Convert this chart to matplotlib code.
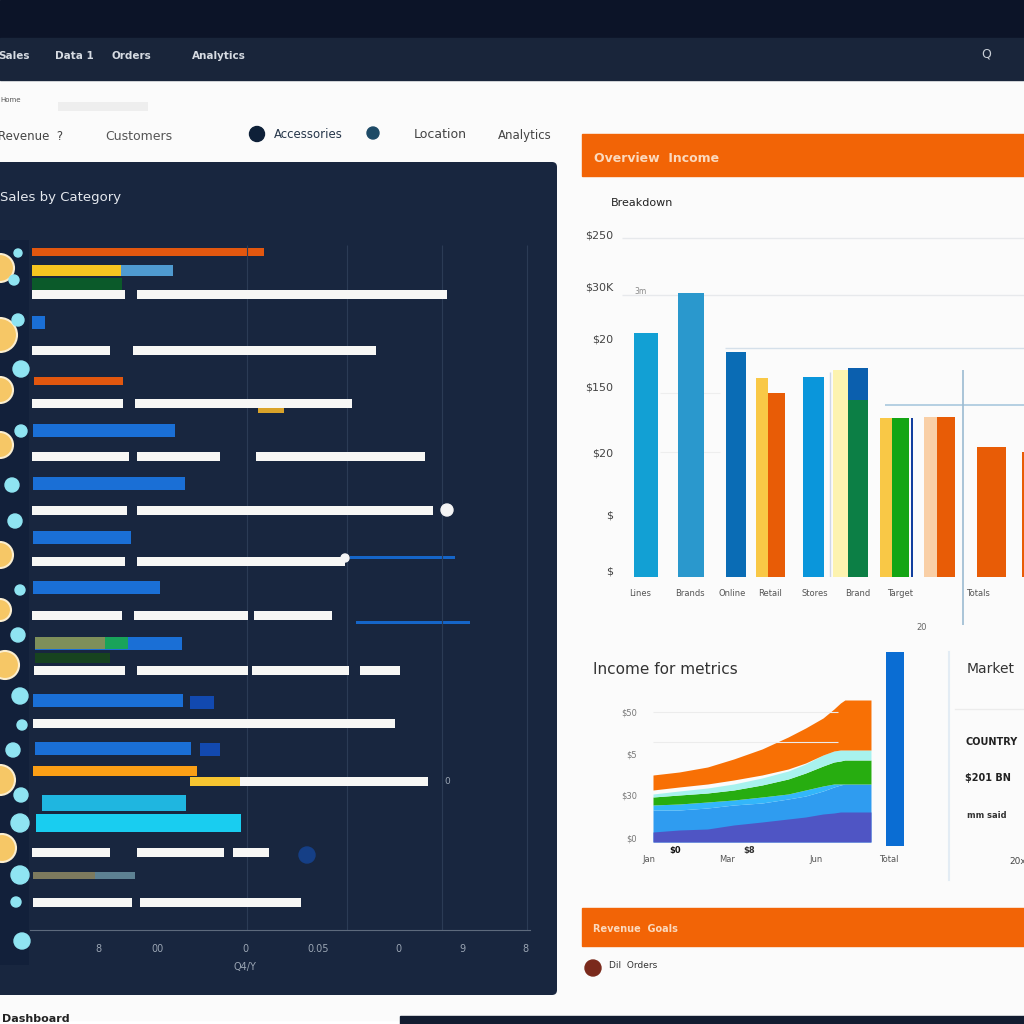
"""Dashboard mock-up: dark bar panel on the left, column and area charts on the right.

    python plot.py
"""
import matplotlib
matplotlib.use("Agg")
import matplotlib.pyplot as plt
from matplotlib.patches import Circle, FancyBboxPatch, Rectangle

# left panel, pixel-like scale on both axes
white_y = [294, 294, 350, 350, 403, 403, 456, 456, 456, 510, 510, 561, 561, 615, 615, 615,
           670, 670, 670, 670, 723, 781, 852, 852, 852, 902, 902]
white_left = [32, 137, 32, 133, 32, 135, 32, 137, 256, 32, 137, 32, 137, 32, 134, 254,
              34, 137, 252, 360, 33, 240, 32, 137, 233, 33, 140]
white_len = [93, 310, 78, 243, 91, 217, 97, 83, 169, 95, 296, 93, 208, 90, 114, 78,
             91, 111, 97, 40, 362, 188, 78, 87, 36, 99, 161]
blue_y = [322, 430, 483, 537, 587, 643, 700, 748]
blue_left = [32, 33, 33, 33, 33, 35, 33, 35]
blue_len = [13, 142, 152, 98, 127, 147, 150, 156]
blob_y = [702, 749]
blob_left = [190, 200]
blob_len = [24, 20]
orange_y = [252, 381]
orange_left = [32, 34]
orange_len = [232, 89]
cyan_y = [803, 823]
cyan_left = [42, 36]
cyan_len = [144, 205]
trace_y = [557, 622]
trace_left = [350, 356]
trace_len = [105, 114]
dots_x = [0, 0, 0, 0, 0, 5, 0, 0, 2]
dots_y = [268, 335, 390, 445, 555, 665, 610, 780, 848]
dots_r = [14, 17, 13, 13, 13, 14, 11, 15, 14]
spots_x = [18, 14, 18, 21, 21, 12, 15, 20, 18, 20, 22, 13, 21, 20, 20, 22, 16]
spots_y = [253, 280, 320, 369, 431, 485, 521, 590, 635, 696, 725, 750, 795, 823, 875, 941, 902]
spots_r = [4, 5, 6, 8, 6, 7, 7, 5, 7, 8, 5, 7, 7, 9, 9, 8, 5]
panel_ticks = [98, 158, 245, 318, 398, 462, 525]
panel_ticklabels = ["8", "00", "0", "0.05", "0", "9", "8"]
panel_grid = [247, 347, 442, 527]

# column chart
bar_x = [646, 691, 736, 813, 991]
bar_h = [244, 284, 225, 200, 130]
yellow_x = [762, 886]
yellow_h = [199, 159]
pale_x = [840, 931]
pale_h = [207, 160]
orange_x = [776, 946]
orange_h = [184, 160]
green_x = [858, 900]
green_h = [177, 159]
navy_x = [858]
navy_h = [209]
last_x = [1024]
last_h = [125]
col_yticks = [342, 290, 239, 191, 125, 62, 7]
col_ylabels = ["$250", "$30K", "$20", "$150", "$20", "$", "$"]
col_xticks = [640, 690, 732, 770, 815, 858, 900, 978]
col_xlabels = ["Lines", "Brands", "Online", "Retail", "Stores", "Brand", "Target", "Totals"]

# area chart
area_x = [0, 12, 25, 37, 50, 62, 70, 78, 83, 86, 88, 100]
purple = [10, 12, 13, 17, 20, 23, 25, 28, 29, 30, 30, 30]
sky = [32, 32, 34, 37, 39, 43, 46, 51, 55, 57, 58, 58]
green_low = [37, 38, 40, 42, 45, 48, 52, 56, 58, 58, 58, 58]
green_top = [45, 47, 49, 52, 57, 63, 69, 76, 80, 81, 82, 82]
aqua = [48, 51, 54, 58, 64, 71, 78, 87, 91, 92, 92, 92]
orange_low = [52, 55, 58, 62, 67, 73, 79, 87, 91, 92, 92, 92]
orange_top = [67, 70, 75, 83, 93, 105, 114, 124, 133, 139, 142, 142]
area_yticks = [130, 88, 47, 4]
area_ylabels = ["$50", "$5", "$30", "$0"]


def main():
    fig = plt.figure(figsize=(10.24, 10.24), dpi=100, facecolor="white")

    def px_axes(x0, y0, x1, y1):
        return fig.add_axes([x0 / 1024, 1 - y1 / 1024, (x1 - x0) / 1024, (y1 - y0) / 1024])

    # page chrome
    page = px_axes(0, 0, 1024, 1024)
    page.set(xlim=(0, 1024), ylim=(1024, 0))
    page.axis("off")
    page.add_patch(Rectangle((0, 80), 1024, 940, color="#fbfbfb"))
    page.add_patch(Rectangle((0, 0), 1024, 38, color="#0c1428"))
    page.add_patch(Rectangle((0, 38), 1024, 42, color="#19253a"))
    page.add_patch(Rectangle((400, 1016), 624, 8, color="#121c30"))
    page.add_patch(FancyBboxPatch((-10, 162), 567, 833, boxstyle="round,pad=0,rounding_size=5",
                                  fc="#18263f", ec="none"))
    page.add_patch(Rectangle((0, 240), 29, 725, color="#12203a", lw=0))
    for x, y, w, h in [(582, 134, 442, 42), (582, 908, 442, 38)]:
        page.add_patch(Rectangle((x, y), w, h, color="#f26406"))

    for x, s in [(-2, "Sales"), (55, "Data 1"), (112, "Orders"), (192, "Analytics")]:
        page.text(x, 56, s, color="#d6dbe2", fontsize=7.5, va="center", fontweight="bold")
    page.text(986, 54, "Q", color="#c8ced6", fontsize=9, ha="center", va="center")
    page.text(0, 100, "Home", color="#555555", fontsize=5, va="center")
    page.add_patch(Rectangle((58, 102), 90, 9, color="#eeeeee", lw=0))
    page.text(-2, 136, "Revenue  ?", color="#444444", fontsize=8.5, va="center")
    page.text(105, 136, "Customers", color="#555555", fontsize=9, va="center")
    page.add_patch(Circle((257, 134), 7.5, color="#0e2038"))
    page.text(274, 135, "Accessories", color="#26364a", fontsize=8.5, va="center")
    page.add_patch(Circle((373, 133), 6, color="#1d4a66"))
    page.text(414, 135, "Location", color="#444444", fontsize=9, va="center")
    page.text(498, 135, "Analytics", color="#444444", fontsize=8.5, va="center")
    page.text(0, 198, "Sales by Category", color="#e4e8ee", fontsize=9.5, va="center")
    page.text(594, 158, "Overview  Income", color="#fbd9bd", fontsize=9, va="center", fontweight="bold")
    page.text(611, 203, "Breakdown", color="#222222", fontsize=8, va="center")
    page.text(593, 669, "Income for metrics", color="#333333", fontsize=11, va="center")
    page.text(967, 669, "Market", color="#333333", fontsize=10, va="center")
    page.plot([949, 949], [652, 880], color="#e3ecf4", lw=1.5)
    page.plot([955, 1024], [709, 709], color="#ececec", lw=1)
    page.text(965, 742, "COUNTRY", color="#222222", fontsize=7, va="center", fontweight="bold")
    page.text(965, 778, "$201 BN", color="#222222", fontsize=7, va="center", fontweight="bold")
    page.text(967, 816, "mm said", color="#333333", fontsize=6, va="center", fontweight="bold")
    page.text(1009, 861, "20x", color="#444444", fontsize=6.5, va="center")
    page.text(593, 929, "Revenue  Goals", color="#fbd9bd", fontsize=7, va="center", fontweight="bold")
    page.add_patch(Circle((593, 968), 8, color="#7a2a1c"))
    page.text(609, 966, "Dil  Orders", color="#333333", fontsize=6.5, va="center")
    page.text(2, 1019, "Dashboard", color="#222222", fontsize=8, va="center", fontweight="bold")

    # dark panel bars
    ax = px_axes(30, 162, 530, 930)
    ax.patch.set_alpha(0)
    ax.set(xlim=(30, 530), ylim=(930, 162), yticks=[])
    for s in ["top", "left", "right"]:
        ax.spines[s].set_visible(False)
    ax.spines["bottom"].set_color("#5d6a7d")
    ax.vlines(panel_grid, 245, 930, color="#2b3b55", lw=0.8)
    ax.set_xticks(panel_ticks, panel_ticklabels)
    ax.tick_params(axis="x", length=0, colors="#9aa5b3", labelsize=7, pad=10)
    ax.set_xlabel("Q4/Y", color="#9aa5b3", fontsize=7, labelpad=6, x=0.43)

    ax.barh(orange_y, orange_len, 8, left=orange_left, color="#e2570f")
    ax.barh(270, 89, 11, left=32, color="#f7c520")
    ax.barh(270, 52, 11, left=121, color="#4f9ad0")
    ax.barh(284, 90, 12, left=32, color="#0b5a2a")
    ax.barh(blue_y, blue_len, 13, left=blue_left, color="#1a6fd6")
    ax.barh(blob_y, blob_len, 13, left=blob_left, color="#1249b0")
    ax.barh(643, 70, 12, left=35, color="#7e8f5a")
    ax.barh(643, 23, 12, left=105, color="#19a35a")
    ax.barh(658, 75, 10, left=35, color="#17431f")
    ax.barh(771, 164, 10, left=33, color="#fb9f16")
    ax.barh(781, 50, 9, left=190, color="#f7c531")
    ax.barh(410, 26, 5, left=258, color="#d9a32a")
    ax.barh(cyan_y, cyan_len, [16, 18], left=cyan_left, color=["#1fb6e0", "#19cdf0"])
    ax.barh(875, 62, 7, left=33, color="#7d7a5e")
    ax.barh(875, 40, 7, left=95, color="#5d8193")
    ax.barh(white_y, white_len, 9, left=white_left, color="#f7f7f5", zorder=3)
    ax.barh(trace_y, trace_len, 3, left=trace_left, color="#1565c8")
    for x, y, r in zip(dots_x, dots_y, dots_r):
        ax.add_patch(Circle((x, y), r, fc="#f6c766", ec="#fbeed0", lw=1.5, clip_on=False, zorder=4))
    for x, y, r in zip(spots_x, spots_y, spots_r):
        ax.add_patch(Circle((x, y), r, color="#8fe4f2", clip_on=False, zorder=4))
    ax.add_patch(Circle((447, 510), 6, color="#f5f5f5", zorder=4))
    ax.add_patch(Circle((345, 558), 4, color="#f5f5f5", zorder=4))
    ax.add_patch(Circle((307, 855), 8, color="#153f86"))
    ax.text(447, 781, "0", color="#9aa5b3", fontsize=6.5, ha="center", va="center")

    # column chart
    ax = px_axes(620, 227, 1024, 577)
    ax.patch.set_alpha(0)
    ax.set(xlim=(620, 1024), ylim=(0, 350))
    for s in ax.spines.values():
        s.set_visible(False)
    ax.hlines([339, 282], 622, 1024, color="#e7e9ec", lw=1, zorder=0)
    ax.hlines(229, 725, 1024, color="#d5e0ea", lw=1, zorder=0)
    ax.hlines(172, 885, 1024, color="#a9c8de", lw=1.2, zorder=0)
    ax.hlines([184, 125], 660, 720, color="#eeeeee", lw=0.8, zorder=0)
    ax.bar(bar_x, bar_h, [24, 26, 20, 21, 29], color=["#12a0d4", "#2a98cd", "#0a6cb5", "#0a96db", "#e85c06"])
    ax.bar(yellow_x, yellow_h, 12, color="#f9c846")
    ax.bar(pale_x, pale_h, 15, color=["#fdf3b0", "#f9cfa6"])
    ax.bar(navy_x, navy_h, 20, color="#0b5fae")
    ax.bar(orange_x, orange_h, [17, 18], color="#e85c06")
    ax.bar(green_x, green_h, [20, 17], color=["#0c7f45", "#14a514"])
    ax.bar(last_x, last_h, 4, color="#e85c06")
    ax.bar(912, 159, 2.5, color="#123f9e")
    ax.vlines(963, -48, 207, color="#9bbbd2", lw=1.2, clip_on=False)
    ax.vlines(830, 0, 205, color="#cfd6e6", lw=1)
    ax.text(922, -51, "20", color="#666666", fontsize=6, ha="center", va="center")
    ax.text(641, 285, "3m", color="#888888", fontsize=5.5, ha="center", va="center")
    ax.set_yticks(col_yticks, col_ylabels)
    ax.set_xticks(col_xticks, col_xlabels)
    ax.tick_params(axis="y", length=0, colors="#444444", labelsize=8, pad=5)
    ax.tick_params(axis="x", length=0, colors="#555555", labelsize=6, pad=9)

    # area chart, one unit is a pixel vertically
    ax = px_axes(640, 650, 910, 847)
    ax.patch.set_alpha(0)
    ax.set(xlim=(-5.96, 117.9), ylim=(-5, 192))
    for s in ax.spines.values():
        s.set_visible(False)
    ax.hlines([130, 100], 0, 85, color="#ececec", lw=0.8)
    ax.fill_between(area_x, 0, sky, color="#2f9cf0", lw=0)
    ax.fill_between(area_x, sky, green_low, color="#33b6fa", lw=0)
    ax.fill_between(area_x, 0, purple, color="#4f55c4", lw=0)
    ax.fill_between(area_x, green_low, green_top, color="#27ad10", lw=0)
    ax.fill_between(area_x, green_top, aqua, color="#a8f2ee", lw=0)
    ax.fill_between(area_x, orange_low, orange_top, color="#f87005", lw=0)
    ax.bar(111, 194, 8.3, bottom=-4, color="#0a6dd3")
    ax.set_yticks(area_yticks, area_ylabels)
    ax.set_xticks([-2, 34, 75, 108], ["Jan", "Mar", "Jun", "Total"])
    ax.tick_params(axis="y", length=0, colors="#777777", labelsize=6, pad=2)
    ax.tick_params(axis="x", length=0, colors="#555555", labelsize=6, pad=6)
    ax.text(10, -8, "$0", color="#111111", fontsize=6, ha="center", va="center", fontweight="bold")
    ax.text(44, -9, "$8", color="#333333", fontsize=6, ha="center", va="center", fontweight="bold")

    fig.savefig("out.png", dpi=100)


if __name__ == "__main__":
    main()
